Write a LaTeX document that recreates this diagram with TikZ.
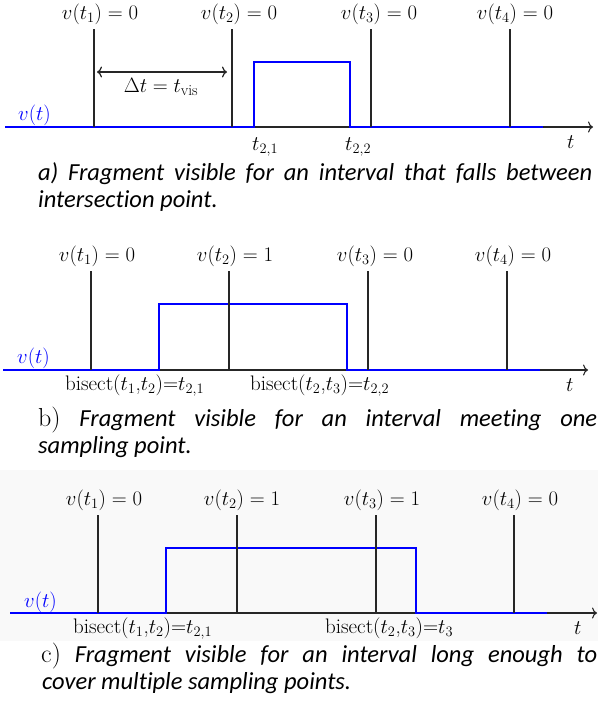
\documentclass[tikz,border=0pt]{standalone}
\usepackage{fontspec}
\newfontfamily\capfont[Ligatures=NoCommon]{Carlito}
\usetikzlibrary{arrows.meta}
\tikzset{
  axisline/.style={line width=1.1pt, black!85, -{To[length=5pt,width=11pt]}},
  sample/.style={line width=1.5pt, black!85},
  sig/.style={line width=1.8pt, blue},
  dbl/.style={line width=1.2pt, black!85, {To[length=5pt,width=11pt]}-{To[length=5pt,width=11pt]}},
  lab/.style={font=\fontsize{22}{26}\selectfont, inner sep=0pt, anchor=base},
  blab/.style={font=\fontsize{21}{25}\selectfont, inner sep=0pt, anchor=base west},
  captxt/.style={font=\capfont\fontsize{24.5}{28}\selectfont, inner sep=0pt, anchor=base west},
}
\newcommand{\capmark}[1]{{\rmfamily\fontsize{26}{28}\selectfont #1}}
\begin{document}
\begin{tikzpicture}[x=1pt,y=-1pt]
\fill[white] (0,0) rectangle (598,713);
\useasboundingbox (0,0) rectangle (598,713);
\fill[black!2.5] (0,470) rectangle (598,641);

% ---------- panel a ----------
\coordinate (a0) at (5,127); \coordinate (aend) at (593,127);
\draw[axisline] (a0) -- (aend);
\draw[sig] (a0) -- (254,127) -- (254,62) -- (350,62) -- (350,127) -- (543,127);
\foreach \x in {94,232,371,510} \draw[sample] (\x,29) -- (\x,127);
\node[lab] (av1) at (100,19) {$v(t_1) = 0$};
\node[lab] (av2) at (239,19) {$v(t_2) = 0$};
\node[lab] (av3) at (379,19) {$v(t_3) = 0$};
\node[lab] (av4) at (515,19) {$v(t_4) = 0$};
\coordinate (dl) at (97,72); \coordinate (dr) at (227,72);
\draw[dbl] (dl) -- (dr);
\node[lab] (adt) at (161,92) {$\Delta t = t_{\mathrm{vis}}$};
\node[lab, anchor=base west, text=blue] (avt) at (18,120) {$v(t)$};
\node[lab, anchor=base west] (at21) at (252,150) {$t_{2,1}$};
\node[lab, anchor=base west] (at22) at (345,150) {$t_{2,2}$};
\node[lab, anchor=base west] (at) at (567,148) {$t$};
\node[captxt] (acap1) at (38,180) {\makebox[554pt][s]{\itshape a) Fragment visible for an interval that falls between}};
\node[captxt] (acap2) at (38,207) {\itshape intersection point.};

% ---------- panel b ----------
\coordinate (b0) at (3,370); \coordinate (bend) at (588,370);
\draw[axisline] (b0) -- (bend);
\draw[sig] (b0) -- (159,370) -- (159,304) -- (347,304) -- (347,370) -- (540,370);
\foreach \x in {91,229,368,507} \draw[sample] (\x,271) -- (\x,370);
\node[lab] (bv1) at (97,261) {$v(t_1) = 0$};
\node[lab] (bv2) at (235,261) {$v(t_2) = 1$};
\node[lab] (bv3) at (375,261) {$v(t_3) = 0$};
\node[lab] (bv4) at (513,261) {$v(t_4) = 0$};
\node[lab, anchor=base west, text=blue] (bvt) at (17,363) {$v(t)$};
\node[blab] (bb1) at (65,390) {bisect($t_1$,$t_2$)=$t_{2,1}$};
\node[blab] (bb2) at (250,390) {bisect($t_2$,$t_3$)=$t_{2,2}$};
\node[lab, anchor=base west] (bt) at (566,391) {$t$};
\node[captxt] (bcap1) at (38,426) {\makebox[559pt][s]{\capmark{b)} \itshape Fragment visible for an interval meeting one}};
\node[captxt] (bcap2) at (38,453) {\itshape sampling point.};

% ---------- panel c ----------
\coordinate (c0) at (10,613); \coordinate (cend) at (597,613);
\draw[axisline] (c0) -- (cend);
\draw[sig] (c0) -- (166,613) -- (166,548) -- (416,548) -- (416,613) -- (547,613);
\foreach \x in {98,237,376,514} \draw[sample] (\x,515) -- (\x,613);
\node[lab] (cv1) at (104,505) {$v(t_1) = 0$};
\node[lab] (cv2) at (242,505) {$v(t_2) = 1$};
\node[lab] (cv3) at (382,505) {$v(t_3) = 1$};
\node[lab] (cv4) at (520,505) {$v(t_4) = 0$};
\node[lab, anchor=base west, text=blue] (cvt) at (24,607) {$v(t)$};
\node[blab] (cb1) at (73,633) {bisect($t_1$,$t_2$)=$t_{2,1}$};
\node[blab] (cb2) at (325,633) {bisect($t_2$,$t_3$)=$t_3$};
\node[lab, anchor=base west] (ct) at (574,634) {$t$};
\node[captxt] (ccap1) at (41,662) {\makebox[556pt][s]{\capmark{c)} \itshape Fragment visible for an interval long enough to}};
\node[captxt] (ccap2) at (42,689) {\itshape cover multiple sampling points.};
\end{tikzpicture}
\end{document}
